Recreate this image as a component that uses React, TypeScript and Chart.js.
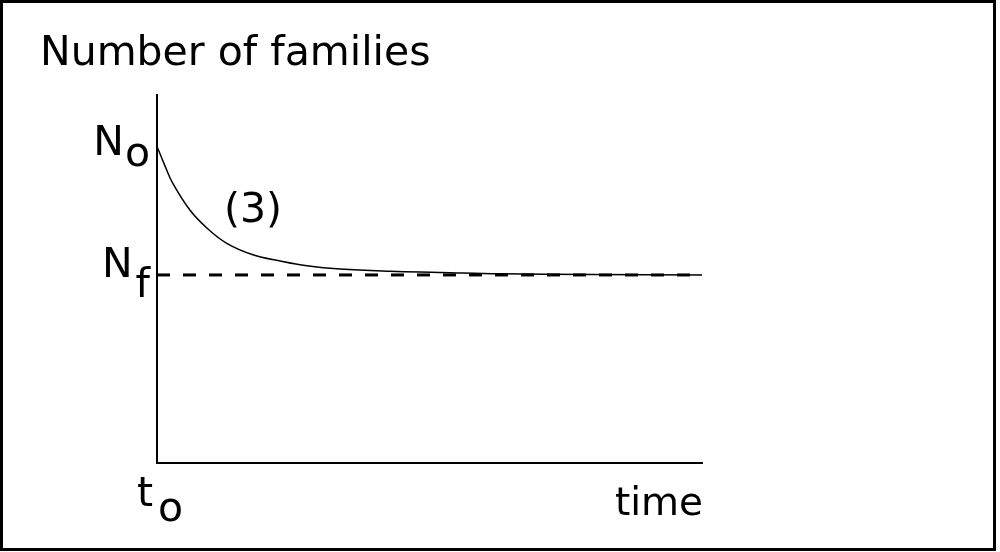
import React, { useEffect, useRef } from "react";
import { Chart, registerables } from "chart.js";

Chart.register(...registerables);

// ---- data (arbitrary units, 0..100) ----
const curveTime = [0, 1.5, 2.9, 6.1, 9.2, 12.8, 17.6, 22.6, 27.5, 33.6, 42.8, 51.9, 62.9, 80, 100];
const curveFamilies = [86.0, 80.6, 76.0, 68.6, 63.8, 59.7, 56.6, 54.9, 53.6, 52.7, 52.1, 51.8, 51.4, 51.2, 51.1];
const initialLevel = 86.0; // N_o
const finalLevel = 51.1; // N_f
const timeStart = 0; // t_o
const timeEnd = 100;
const yMin = 0;
const yMax = 100;

const titleText = "Number of families";
const yTickLabels = [
  { main: "N", sub: "o", value: initialLevel },
  { main: "N", sub: "f", value: finalLevel },
];
const xTickLabels = [{ main: "t", sub: "o", value: timeStart }];
const xAxisTitle = "time";
const curveNote = { text: "(3)", x: 17.6, y: 65.6 };

const FONT = "41px 'DejaVu Sans'";

const textPlugin = {
  id: "textPlugin",
  afterDraw(chart: any) {
    const { ctx, chartArea } = chart;
    const xs = chart.scales.x;
    const ys = chart.scales.y;
    ctx.save();
    ctx.fillStyle = "#000";
    ctx.font = FONT;
    ctx.textBaseline = "alphabetic";
    ctx.textAlign = "left";
    // title
    ctx.fillText(titleText, 40, 65);
    // y labels
    yTickLabels.forEach((l) => {
      const py = ys.getPixelForValue(l.value);
      const mw = ctx.measureText(l.main).width;
      const sw = ctx.measureText(l.sub).width;
      const gap = l.sub === "f" ? 3 : 1;
      const left = chartArea.left - 7 - sw - gap - mw;
      const mainBase = l.sub === "f" ? py + 2 : py + 8;
      const subBase = l.sub === "f" ? py + 22 : py + 19;
      ctx.fillText(l.main, left, mainBase);
      ctx.fillText(l.sub, left + mw + gap, subBase);
    });
    // x labels
    xTickLabels.forEach((l) => {
      const px = xs.getPixelForValue(l.value);
      const mw = ctx.measureText(l.main).width;
      const left = px - 20;
      ctx.fillText(l.main, left, chartArea.bottom + 43);
      ctx.fillText(l.sub, left + mw + 5, chartArea.bottom + 58);
    });
    // axis title
    ctx.font = "39px 'DejaVu Sans'";
    ctx.textAlign = "right";
    ctx.fillText(xAxisTitle, chartArea.right + 1, chartArea.bottom + 52);
    // curve note
    ctx.font = FONT;
    ctx.textAlign = "center";
    ctx.fillText(curveNote.text, xs.getPixelForValue(curveNote.x), ys.getPixelForValue(curveNote.y));
    // outer frame
    ctx.strokeStyle = "#000";
    ctx.lineWidth = 3;
    ctx.strokeRect(1.5, 1.5, 993, 548);
    ctx.restore();
  },
};

export default function App() {
  const ref = useRef<HTMLCanvasElement | null>(null);
  useEffect(() => {
    document.body.style.margin = "0";
    const canvas = ref.current!;
    const chart = new Chart(canvas, {
      type: "line",
      data: {
        datasets: [
          {
            label: "families",
            data: curveTime.map((t, i) => ({ x: t, y: curveFamilies[i] })),
            borderColor: "#000",
            borderWidth: 1.5,
            pointRadius: 0,
            tension: 0.4,
            fill: false,
          },
          {
            label: "N_f",
            data: [
              { x: timeStart, y: finalLevel },
              { x: timeEnd, y: finalLevel },
            ],
            borderColor: "#000",
            borderWidth: 3,
            borderDash: [13, 13],
            pointRadius: 0,
            fill: false,
          },
        ],
      },
      options: {
        responsive: false,
        animation: false,
        events: [],
        layout: { padding: { left: 157, top: 95, right: 298, bottom: 89 } },
        plugins: { legend: { display: false }, tooltip: { enabled: false }, title: { display: false } },
        scales: {
          x: {
            type: "linear",
            min: timeStart,
            max: timeEnd,
            ticks: { display: false },
            grid: { display: false, drawTicks: false },
            border: { display: true, color: "#000", width: 2 },
          },
          y: {
            type: "linear",
            min: yMin,
            max: yMax,
            ticks: { display: false },
            grid: { display: false, drawTicks: false },
            border: { display: true, color: "#000", width: 2 },
          },
        },
      },
      plugins: [textPlugin],
    } as any);
    return () => chart.destroy();
  }, []);
  return (
    <div style={{ width: 1000, height: 552, background: "#fff" }}>
      <canvas ref={ref} width={1000} height={552} style={{ display: "block" }} />
    </div>
  );
}
